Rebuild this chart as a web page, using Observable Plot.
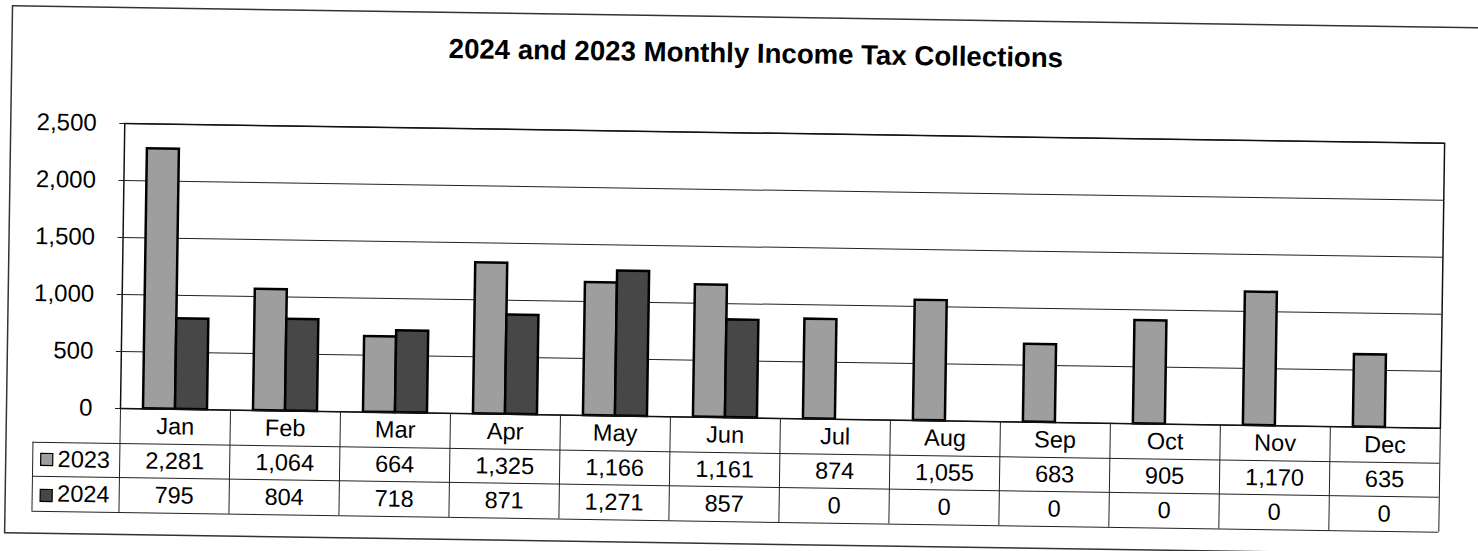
<!DOCTYPE html>
<html>
<head>
<meta charset="utf-8">
<script src="https://cdn.jsdelivr.net/npm/d3@7"></script>
<script src="https://cdn.jsdelivr.net/npm/@observablehq/plot@0.6"></script>
<style>
  html, body { margin: 0; padding: 0; background: #fff; }
  #wrap { position: relative; width: 1478px; height: 551px; overflow: hidden; background: #fff; }
  #wrap svg { position: absolute; left: 0; top: 0; transform: rotate(0.86deg); transform-origin: 120px 408px; overflow: hidden; }
</style>
</head>
<body>
<div id="wrap"></div>
<script>
const title = "2024 and 2023 Monthly Income Tax Collections";
const months = ["Jan", "Feb", "Mar", "Apr", "May", "Jun", "Jul", "Aug", "Sep", "Oct", "Nov", "Dec"];
const values2023 = [2281, 1064, 664, 1325, 1166, 1161, 874, 1055, 683, 905, 1170, 635];
const values2024 = [795, 804, 718, 871, 1271, 857, 0, 0, 0, 0, 0, 0];
const seriesNames = ["2023", "2024"];
const seriesColors = ["#9e9e9e", "#474747"];
const yTicks = [0, 500, 1000, 1500, 2000, 2500];

const rows = months.map((m, i) => ({month: m, v2023: values2023[i], v2024: values2024[i]}));
const fmt = d3.format(",");
const fs = 23.5;

const chart = Plot.plot({
  width: 1478,
  height: 551,
  marginLeft: 120,
  marginRight: 38,
  marginTop: 123,
  marginBottom: 143,
  style: {fontFamily: "'Liberation Sans', Arial, sans-serif", background: "transparent", color: "#000"},
  x: {domain: months, padding: 0, axis: null},
  y: {domain: [0, 2500], axis: null},
  marks: [
    // outer chart border
    Plot.frame({stroke: "#333", strokeWidth: 1.5, insetLeft: -114, insetTop: -116, insetBottom: -126, insetRight: -45}),
    // title
    Plot.text([title], {frameAnchor: "top-left", dx: 630, dy: -90, text: d => d, fontSize: 27.6, fontWeight: "bold", textAnchor: "middle", fill: "#000"}),
    // grid & axis
    Plot.gridY(yTicks, {stroke: "#222", strokeOpacity: 1, strokeWidth: 1}),
    Plot.axisY({ticks: yTicks, tickFormat: fmt, tickSize: 5, tickPadding: 23, fontSize: 24, label: null, stroke: "#222"}),
    // bars
    Plot.barY(rows, {x: "month", y: "v2023", fill: seriesColors[0], stroke: "#000", strokeWidth: 2.5, insetLeft: 23, insetRight: 55}),
    Plot.barY(rows.filter(d => d.v2024 > 0), {x: "month", y: "v2024", fill: seriesColors[1], stroke: "#000", strokeWidth: 2.5, insetLeft: 55, insetRight: 23}),
    Plot.frame({stroke: "#111", strokeWidth: 1.5}),
    // data table grid
    Plot.ruleY([0], {dy: 35, insetLeft: -87, stroke: "#222"}),
    Plot.ruleY([0], {dy: 69, insetLeft: -87, stroke: "#222"}),
    Plot.ruleY([0], {dy: 104, insetLeft: -87, stroke: "#222"}),
    Plot.ruleX(months, {x: d => d, dx: -55, insetTop: 285, insetBottom: -104, stroke: "#222"}),
    Plot.ruleX([months[months.length - 1]], {x: d => d, dx: 55, insetTop: 285, insetBottom: -104, stroke: "#222"}),
    Plot.ruleX([months[0]], {x: d => d, dx: -142, insetTop: 320, insetBottom: -104, stroke: "#222"}),
    // table text
    Plot.text(rows, {x: "month", frameAnchor: "bottom", dy: 25, text: "month", fontSize: fs, fill: "#000"}),
    Plot.text(rows, {x: "month", frameAnchor: "bottom", dy: 59.5, text: d => fmt(d.v2023), fontSize: fs, fill: "#000"}),
    Plot.text(rows, {x: "month", frameAnchor: "bottom", dy: 94, text: d => fmt(d.v2024), fontSize: fs, fill: "#000"}),
    // legend keys in the table
    Plot.dot([seriesNames[0]], {frameAnchor: "bottom-left", dx: -73, dy: 52, symbol: "square", r: 6.8, fill: seriesColors[0], stroke: "#000", strokeWidth: 1.2}),
    Plot.dot([seriesNames[1]], {frameAnchor: "bottom-left", dx: -73, dy: 88, symbol: "square", r: 6.8, fill: seriesColors[1], stroke: "#000", strokeWidth: 1.2}),
    Plot.text([seriesNames[0]], {frameAnchor: "bottom-left", dx: -62, dy: 59.5, text: d => d, textAnchor: "start", fontSize: fs, fill: "#000"}),
    Plot.text([seriesNames[1]], {frameAnchor: "bottom-left", dx: -62, dy: 94, text: d => d, textAnchor: "start", fontSize: fs, fill: "#000"})
  ]
});
document.getElementById("wrap").appendChild(chart);
</script>
</body>
</html>
